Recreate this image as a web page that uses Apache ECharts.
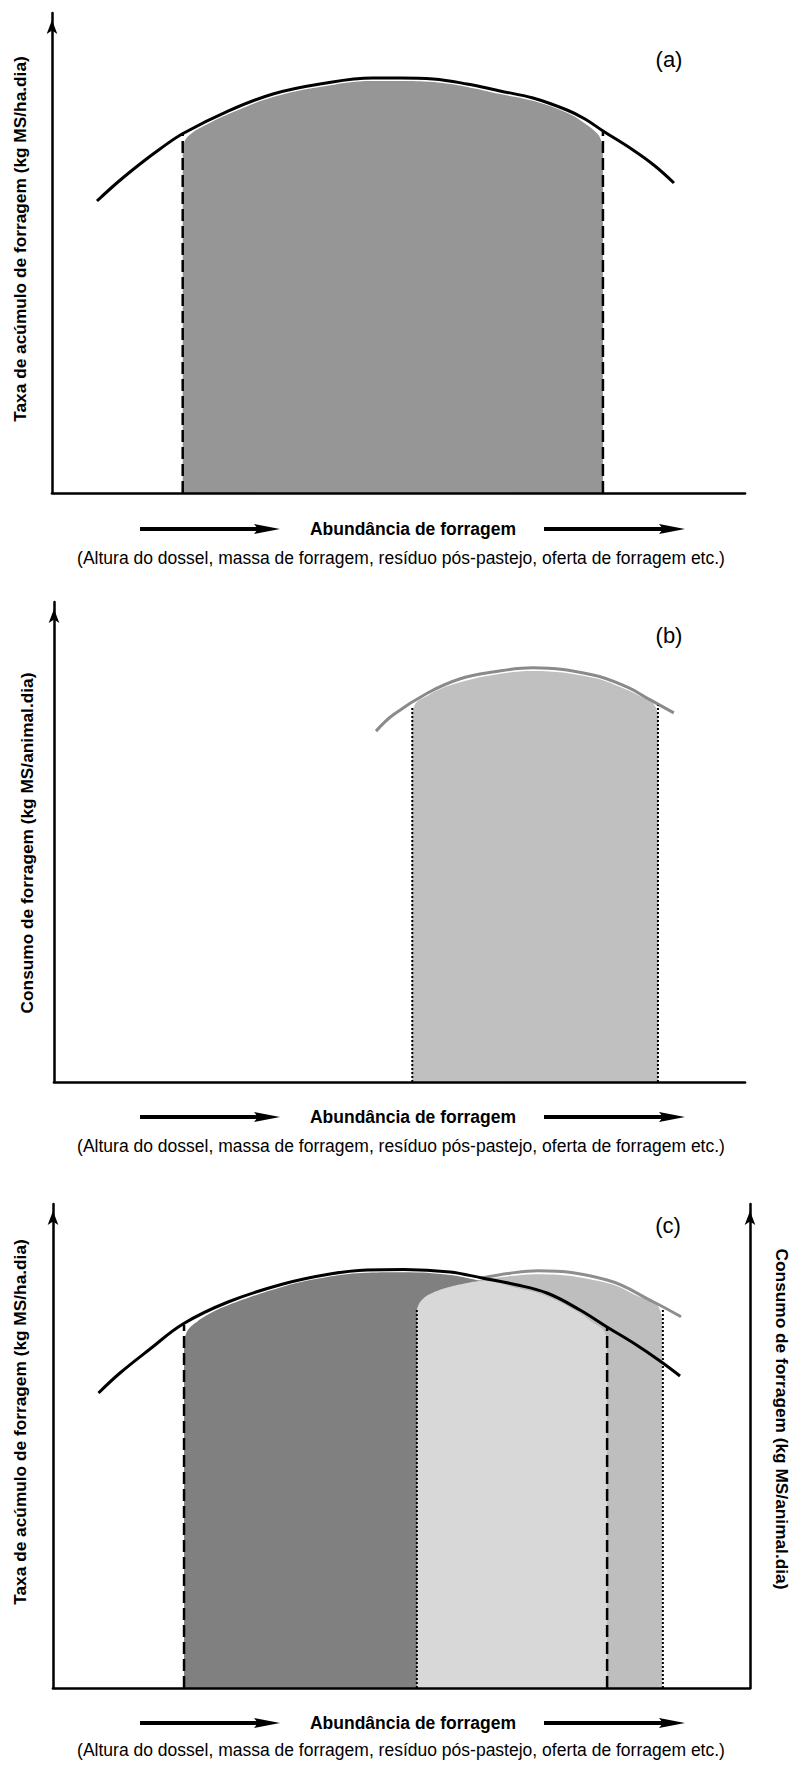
<!DOCTYPE html>
<html><head><meta charset="utf-8">
<script src="https://cdn.jsdelivr.net/npm/echarts@6/dist/echarts.min.js"></script>
<style>html,body{margin:0;padding:0;background:#fff}#c{width:792px;height:1765px}</style>
</head><body><div id="c"></div>
<script>
// ---------- Panel (a): taxa de acúmulo de forragem ----------
const curveA = [[6.49,60.83],[9.52,64.79],[12.70,68.54],[15.58,71.67],[18.90,74.9],[25.40,79.58],[31.89,83.13],[38.67,85.21],[46.32,86.46],[50.22,86.46],[54.98,86.25],[59.88,85.21],[64.65,83.75],[69.41,82.29],[74.31,79.79],[76.91,77.92],[79.51,75.42],[83.84,71.46],[87.01,68.13],[89.75,64.58]];
const fillA = [[18.86,71.5],[19.2,73.5],[20.2,75.0],[22.1,76.6],[25.4,78.9],[31.9,82.5],[38.67,84.6],[46.3,85.85],[50.2,85.85],[55.0,85.6],[59.9,84.6],[64.65,83.1],[69.4,81.7],[74.3,79.2],[76.9,77.0],[78.6,75.0],[79.2,73.6],[79.5,71.5]];
const limitsA = [[18.86,75.0],[79.5,75.2]];
// ---------- Panel (b): consumo de forragem ----------
const curveB = [[46.6,73.1],[49.1,76.5],[54.0,81.0],[58.8,84.0],[63.5,85.4],[69.3,86.3],[78.0,84.8],[82.9,82.3],[86.3,79.6],[89.7,76.9]];
const fillB = [[51.85,77.1],[52.4,79.0],[53.7,80.2],[55.9,81.9],[58.8,83.3],[63.5,84.8],[69.3,85.6],[78.0,84.2],[82.9,81.7],[84.8,80.4],[86.3,79.4],[87.0,78.3],[87.4,76.7]];
const limitsB = [[51.85,78.2],[87.4,78.5]];
// ---------- Panel (c): combinação ----------
const curveC1 = [[6.53,60.95],[9.61,65.08],[13.92,70.04],[18.65,75.21],[25.11,79.75],[33.0,83.47],[39.74,85.54],[45.05,86.36],[50.36,86.47],[56.96,85.95],[61.55,84.71],[66.28,83.37],[70.87,81.61],[75.61,78.10],[79.48,74.59],[83.50,71.07],[87.09,67.56],[89.96,64.46]];
const curveC2 = [[61.5,84.7],[65.6,85.7],[69.6,86.2],[79.5,84.3],[86.1,79.8],[90.1,76.7]];
const fillC1 = [[18.8,70.9],[19.2,73.6],[20.4,75.4],[22.5,77.4],[25.11,79.1],[33.0,82.9],[39.74,85.0],[45.05,85.8],[50.36,85.9],[56.96,85.35],[61.55,84.1],[66.28,82.8],[70.87,81.0],[75.61,77.5],[77.5,75.5],[79.0,74.0],[79.5,71.9]];
const fillC2 = [[52.2,78.1],[52.7,79.8],[54.1,81.4],[57.0,82.9],[61.5,84.3],[65.6,85.1],[69.6,85.5],[79.5,83.7],[84.2,80.8],[86.4,79.5],[87.1,78.1],[87.4,76.0]];
const fillC12 = [[52.2,78.1],[52.7,79.8],[54.1,81.4],[57.0,82.9],[59.8,83.8],[61.55,84.1],[66.28,82.8],[70.87,81.0],[75.61,77.5],[77.5,75.5],[79.0,74.0],[79.5,71.9]];
const dashedC = [[18.8,75.0],[79.5,74.6]];
const dottedC = [[52.2,78.1],[87.5,78.3]];
// ---------- Texts ----------
const panelLabels = ['(a)','(b)','(c)'];
const xTitle = 'Abundância de forragem';
const xSubtitle = '(Altura do dossel, massa de forragem, resíduo pós-pastejo, oferta de forragem etc.)';
const yTitleAcum = 'Taxa de acúmulo de forragem (kg MS/ha.dia)';
const yTitleCons = 'Consumo de forragem (kg MS/animal.dia)';

const FONT = '"Liberation Sans", Arial, sans-serif';
const DASH = [12,5];
const DOT = [2,2];

function curve(g, data, color){
  return {type:'line', xAxisIndex:g, yAxisIndex:g, data, smooth:0.4, symbol:'none', silent:true,
    lineStyle:{color, width:3}, z:5};
}
function area(g, data, color, z){
  return {type:'line', xAxisIndex:g, yAxisIndex:g, data, smooth:0.4, symbol:'none', silent:true,
    lineStyle:{width:0, opacity:0}, areaStyle:{color, opacity:1}, z:z||2};
}
function vline(g, p, type, w){
  return {type:'line', xAxisIndex:g, yAxisIndex:g, data:[[p[0],0],[p[0],p[1]]], symbol:'none', silent:true,
    lineStyle:{color:'#000', width:w, type, cap:'butt'}, z:6};
}
function xAx(g){
  return {gridIndex:g, type:'value', min:0, max:100, position:'bottom', z:10,
    axisLine:{onZero:false, lineStyle:{color:'#000', width:2.7}}, axisTick:{show:false}, axisLabel:{show:false}, splitLine:{show:false}};
}
function yAx(g, pos){
  return {gridIndex:g, type:'value', min:0, max:100, position:pos||'left', z:10,
    axisLine:{onZero:false, symbol:['none','arrow'], symbolSize:[8,14], symbolOffset:[0,-7], lineStyle:{color:'#000', width:2.5}},
    axisTick:{show:false}, axisLabel:{show:false}, splitLine:{show:false}};
}
function arrow(x1, x2, y){
  return [
    {type:'line', shape:{x1, y1:y, x2:x2-18, y2:y}, style:{stroke:'#000', lineWidth:4}},
    {type:'polygon', shape:{points:[[x2-26,y-5],[x2,y],[x2-26,y+5],[x2-22,y]]}, style:{fill:'#000'}}
  ];
}
function txt(text, x, y, size, bold, rot){
  return {type:'text', x, y, rotation:rot||0, style:{text, fill:'#000', font:(bold?'bold ':'')+size+'px '+FONT,
    textAlign:'center', textVerticalAlign:'middle', verticalAlign:'middle'}};
}
function footer(yArrow, ySub){
  return [].concat(arrow(140,280,yArrow), arrow(544,685,yArrow),
    [txt(xTitle, 413, yArrow, 17.5, true), txt(xSubtitle, 401, ySub, 17.5, false)]);
}

const chart = echarts.init(document.getElementById('c'), null, {renderer:'svg'});
chart.setOption({
  backgroundColor:'#fff',
  animation:false,
  grid:[
    {left:52, right:47, top:13, height:480},
    {left:54, right:47, top:602, height:480},
    {left:53, right:42, top:1204, height:484}
  ],
  xAxis:[xAx(0), xAx(1), xAx(2)],
  yAxis:[yAx(0), yAx(1), yAx(2), yAx(2,'right')],
  series:[
    area(0, fillA, '#969696'),
    curve(0, curveA, '#000'),
    vline(0, limitsA[0], DASH, 2.5), vline(0, limitsA[1], DASH, 2.5),

    area(1, fillB, '#c0c0c0'),
    curve(1, curveB, '#8a8a8a'),
    vline(1, limitsB[0], DOT, 2), vline(1, limitsB[1], DOT, 2),

    area(2, fillC2, '#bebebe', 2),
    area(2, fillC1, '#808080', 3),
    area(2, fillC12, '#d8d8d8', 4),
    curve(2, curveC2, '#8e8e8e'),
    curve(2, curveC1, '#000'),
    vline(2, dashedC[0], DASH, 2.5), vline(2, dashedC[1], DASH, 2.5),
    vline(2, dottedC[0], DOT, 2), vline(2, dottedC[1], DOT, 2)
  ],
  graphic:[].concat(
    [txt(panelLabels[0], 669, 59, 22, false), txt(panelLabels[1], 669, 635, 22, false), txt(panelLabels[2], 668, 1225, 22, false)],
    [txt(yTitleAcum, 20, 239, 17.3, true, Math.PI/2), txt(yTitleCons, 27, 843, 17.3, true, Math.PI/2),
     txt(yTitleAcum, 20, 1422, 17.3, true, Math.PI/2), txt(yTitleCons, 782, 1419, 17.3, true, -Math.PI/2)],
    footer(529, 558), footer(1117, 1146), footer(1723, 1750)
  )
});
</script></body></html>
